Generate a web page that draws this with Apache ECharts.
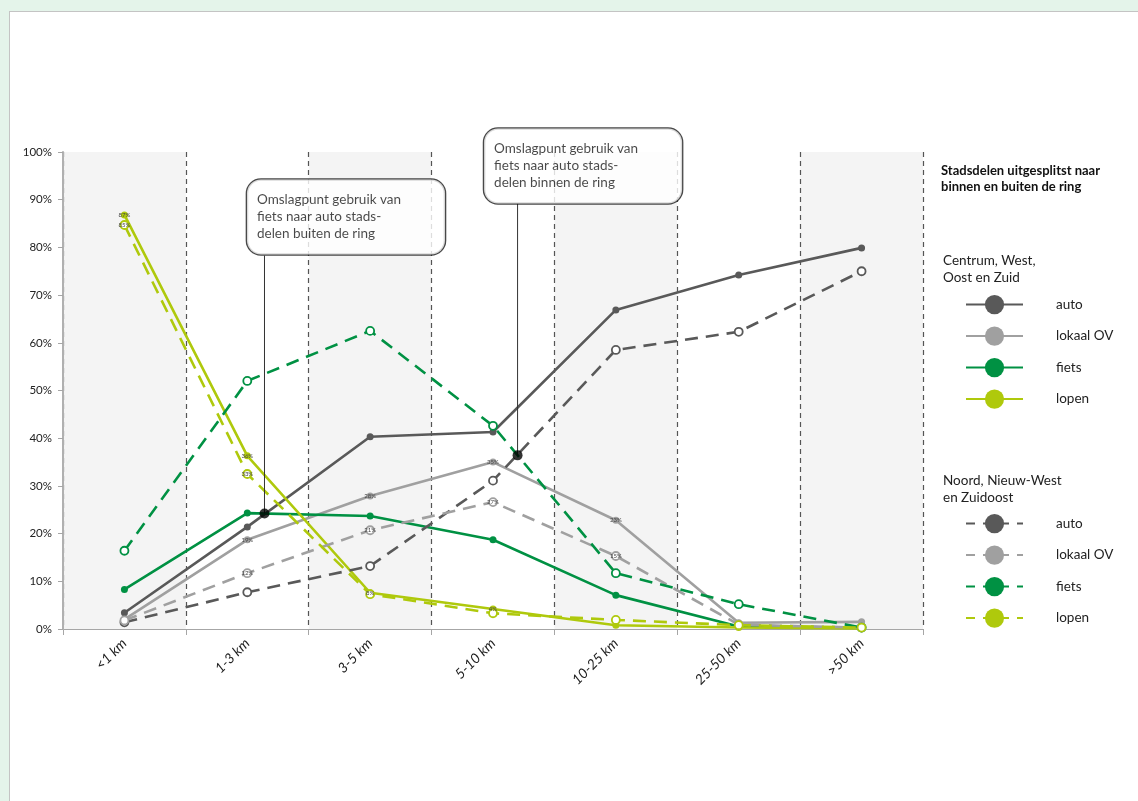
<!DOCTYPE html>
<html><head><meta charset="utf-8">
<script src="https://cdn.jsdelivr.net/npm/echarts@6/dist/echarts.min.js"></script>
<style>
html,body{margin:0;padding:0;width:1138px;height:801px;background:#e4f4ea;overflow:hidden}
#chart{position:absolute;left:9px;top:11px;width:1129px;height:790px;background:#fff;border-left:1px solid #c4c4c4;border-top:1px solid #c4c4c4;}
</style></head><body><div id="chart"></div>
<script>
// ---- data ----
const categories = ['<1 km', '1-3 km', '3-5 km', '5-10 km', '10-25 km', '25-50 km', '>50 km'];
const modes = ['auto', 'lokaal OV', 'fiets', 'lopen'];
// Centrum, West, Oost en Zuid (binnen de ring) - solid
const binnenAuto  = [3.4, 21.4, 40.3, 41.3, 66.9, 74.2, 79.9];
const binnenOV    = [2.0, 18.7, 27.9, 35.0, 22.8, 1.3, 1.5];
const binnenFiets = [8.3, 24.3, 23.7, 18.7, 7.1, 0.5, 0.2];
const binnenLopen = [86.8, 36.3, 7.6, 4.2, 0.8, 0.3, 0.1];
// Noord, Nieuw-West en Zuidoost (buiten de ring) - dashed
const buitenAuto  = [1.4, 7.7, 13.2, 31.1, 58.5, 62.3, 75.0];
const buitenOV    = [1.8, 11.7, 20.7, 26.6, 15.3, 0.9, 0.3];
const buitenFiets = [16.4, 52.0, 62.5, 42.6, 11.7, 5.2, 0.3];
const buitenLopen = [84.7, 32.5, 7.3, 3.3, 1.9, 0.8, 0.3];
// tiny point labels visible in the source (category indices)
const binnenLabelIdx = [[], [1, 2, 3, 4], [], [0, 1, 2, 3]];
const buitenLabelIdx = [[], [1, 2, 3, 4], [], [0, 1]];
// omslagpunten (crossing points, x as fractional category index)
const omslagX = [1.14, 3.2];
const omslagY = [24.2, 36.4];
const omslagText = [
  'Omslagpunt gebruik van\nfiets naar auto stads-\ndelen buiten de ring',
  'Omslagpunt gebruik van\nfiets naar auto stads-\ndelen binnen de ring'
];
const yTickLabels = ['0%', '10%', '20%', '30%', '40%', '50%', '60%', '70%', '80%', '90%', '100%'];

// ---- styles ----
const colors = ['#595959', '#a0a0a0', '#009143', '#afc90c'];
const FONT = 'Lato';
const binnen = [binnenAuto, binnenOV, binnenFiets, binnenLopen];
const buiten = [buitenAuto, buitenOV, buitenFiets, buitenLopen];

function labelled(values, idx) {
  return values.map((v, i) => idx.includes(i)
    ? { value: v, label: { show: true, formatter: Math.round(v) + '%', position: 'inside', fontSize: 6, color: '#444', fontFamily: FONT } }
    : v);
}

const series = [];
modes.forEach((m, i) => {
  series.push({
    name: m + '|c', type: 'line', data: labelled(binnen[i], binnenLabelIdx[i]),
    symbol: 'circle', symbolSize: 7,
    itemStyle: { color: colors[i] },
    lineStyle: { color: colors[i], width: 2.6 },
    z: 3
  });
});
modes.forEach((m, i) => {
  series.push({
    name: m + '|n', type: 'line', data: labelled(buiten[i], buitenLabelIdx[i]),
    symbol: 'circle', symbolSize: 8,
    itemStyle: { color: '#fff', borderColor: colors[i], borderWidth: 1.8 },
    lineStyle: { color: colors[i], width: 2.6, type: [13, 8] },
    z: 3
  });
});
// callouts
omslagX.forEach((x, k) => {
  const topVal = k === 0 ? 78.2 : 89.1;
  series.push({
    type: 'line', xAxisIndex: 1, data: [[x, omslagY[k]], [x, topVal]],
    symbol: 'none', lineStyle: { color: '#333', width: 1 }, z: 4, silent: true
  });
  series.push({
    type: 'scatter', xAxisIndex: 1, data: [[x, omslagY[k]]],
    symbol: 'circle', symbolSize: 10, itemStyle: { color: '#000' }, z: 6, silent: true
  });
  series.push({
    type: 'scatter', xAxisIndex: 1, data: [[x, topVal]],
    symbol: 'rect', symbolSize: 1, itemStyle: { color: '#333' }, z: 7, silent: true,
    label: {
      show: true, formatter: omslagText[k],
      position: k === 0 ? [-17, -76] : [-33, -75],
      backgroundColor: '#fff', borderColor: '#1a1a1a', borderWidth: 1.3, borderRadius: 14,
      padding: [12, 10, 12, 10], width: 178,
      fontSize: 13.5, lineHeight: 17, color: '#1a1a1a', fontFamily: FONT
    }
  });
});

const legendBase = {
  orient: 'vertical', left: 955, itemWidth: 57, itemHeight: 24, itemGap: 12.3, padding: 0,
  selectedMode: false,
  formatter: n => n.split('|')[0],
  textStyle: { fontSize: 13.5, color: '#222', fontFamily: FONT, padding: [0, 0, 0, 28] }
};

const chart = echarts.init(document.getElementById('chart'));
chart.setOption({
  animation: false,
  textStyle: { fontFamily: FONT },
  grid: { left: 53, right: 216, top: 140, bottom: 173, containLabel: false },
  title: [
    { text: 'Stadsdelen uitgesplitst naar\nbinnen en buiten de ring', left: 931, top: 151, padding: 0,
      textStyle: { fontSize: 13, fontWeight: 'bold', lineHeight: 16, color: '#111', fontFamily: FONT } },
    { text: 'Centrum, West,\nOost en Zuid', left: 933, top: 240, padding: 0,
      textStyle: { fontSize: 13.5, fontWeight: 'normal', lineHeight: 17, color: '#222', fontFamily: FONT } },
    { text: 'Noord, Nieuw-West\nen Zuidoost', left: 933, top: 460, padding: 0,
      textStyle: { fontSize: 13.5, fontWeight: 'normal', lineHeight: 17, color: '#222', fontFamily: FONT } }
  ],
  legend: [
    Object.assign({}, legendBase, { top: 283, data: modes.map(m => m + '|c') }),
    Object.assign({}, legendBase, { top: 502, data: modes.map((m, i) => ({ name: m + '|n', itemStyle: { color: colors[i], borderWidth: 0 }, lineStyle: { type: [9, 8] } })) })
  ],
  xAxis: [
    {
      type: 'category', data: categories, boundaryGap: true,
      axisLine: { show: true, lineStyle: { color: '#a6a6a6', width: 1 } },
      axisTick: { show: true, length: 6, lineStyle: { color: '#a6a6a6' } },
      axisLabel: { rotate: 45, fontSize: 14, fontStyle: 'italic', color: '#222', margin: 12, fontFamily: FONT },
      splitLine: { show: true, lineStyle: { color: '#555', type: [5, 4], width: 1.2 } },
      splitArea: { show: true, areaStyle: { color: ['#f4f4f4', '#ffffff'] } }
    },
    { type: 'value', min: -0.5, max: 6.5, show: false }
  ],
  yAxis: {
    type: 'value', min: 0, max: 100, interval: 10, z: 5,
    axisLine: { show: true, onZero: false, lineStyle: { color: '#b0b0b0', width: 2 } },
    axisTick: { show: true, length: 5, lineStyle: { color: '#a6a6a6', width: 1 } },
    splitLine: { show: false },
    axisLabel: { formatter: v => yTickLabels[Math.round(v / 10)], fontSize: 11.5, color: '#222', margin: 11, fontFamily: FONT }
  },
  series: series
});
</script></body></html>
